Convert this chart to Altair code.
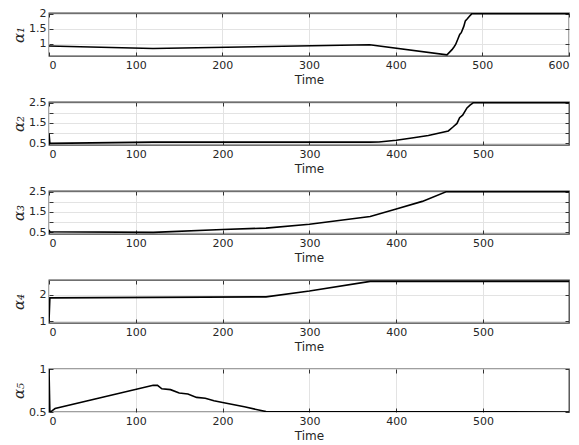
import altair as alt
import pandas as pd

# ---- data ----
t1 = [0, 120, 370, 459.2, 465, 467.3, 469.2, 471.9, 473.9, 475.7, 478.5, 480.4, 482.7, 485.4, 488, 600]
v1 = [0.93, 0.85, 0.97, 0.64, 0.81, 0.90, 0.98, 1.17, 1.31, 1.37, 1.57, 1.76, 1.83, 1.92, 2.0, 2.0]

t2 = [0, 1, 120, 370, 380, 400, 418, 437, 460, 465, 470, 473, 476.5, 481.5, 485, 489, 599]
v2 = [1.0, 0.5, 0.56, 0.56, 0.57, 0.65, 0.76, 0.89, 1.11, 1.29, 1.48, 1.76, 1.88, 2.24, 2.38, 2.5, 2.5]

t3 = [0, 1, 120, 200, 250, 300, 370, 400, 430, 458, 599]
v3 = [0.62, 0.53, 0.5, 0.64, 0.71, 0.9, 1.28, 1.65, 2.02, 2.5, 2.5]

t4 = [0, 1, 250, 300, 370, 599]
v4 = [1.0, 1.88, 1.92, 2.14, 2.5, 2.5]

t5 = [0, 1, 3, 7, 120, 125, 130, 140, 150, 160, 170, 180, 190, 200, 225, 250, 599]
v5 = [1.0, 0.5, 0.51, 0.54, 0.81, 0.81, 0.77, 0.76, 0.72, 0.71, 0.67, 0.66, 0.63, 0.61, 0.56, 0.505, 0.5]

titles = ["α₁", "α₂", "α₃", "α₄", "α₅"]
ydomains = [[0.6, 2.02], [0.42, 2.53], [0.42, 2.53], [0.94, 2.55], [0.5, 1.0]]
yticks = [[1, 1.5, 2], [0.5, 1, 1.5, 2, 2.5], [0.5, 1, 1.5, 2, 2.5], [1, 2], [0.5, 1]]
xdomains = [[0, 600], [0, 599], [0, 599], [0, 599], [0, 599]]
xticks_all = [[0, 100, 200, 300, 400, 500, 600]] + [[0, 100, 200, 300, 400, 500]] * 4

series = [(t1, v1), (t2, v2), (t3, v3), (t4, v4), (t5, v5)]

W, H = 520, 43
TICK = "#333333"


def panel(i):
    t, v = series[i]
    df = pd.DataFrame({"t": t, "v": v})
    xs = alt.Scale(domain=xdomains[i], nice=False, zero=False)
    ys = alt.Scale(domain=ydomains[i], nice=False, zero=False)
    xt, yt = xticks_all[i], yticks[i]

    main = alt.Chart(df).mark_line(color="black", strokeWidth=1.6, clip=True).encode(
        x=alt.X("t:Q", scale=xs, axis=alt.Axis(
            orient="bottom", values=xt, title="Time", grid=True, ticks=False,
            domain=False, labelPadding=3, titlePadding=4, format="d")),
        y=alt.Y("v:Q", scale=ys, axis=alt.Axis(
            orient="left", values=yt, title=titles[i], grid=True, ticks=False,
            domain=False, labelPadding=3, titlePadding=4, format="~r",
            minExtent=19, maxExtent=19, titleFont="DejaVu Serif",
            titleFontStyle="italic", titleFontSize=15)),
    )
    tk1 = alt.Chart(df).mark_line(opacity=0).encode(
        x=alt.X("t:Q", scale=xs, axis=alt.Axis(
            orient="bottom", values=xt, title=None, labels=False, grid=False,
            domain=False, ticks=True, tickSize=4, offset=-4, tickColor=TICK)),
        y=alt.Y("v:Q", scale=ys, axis=alt.Axis(
            orient="left", values=yt, title=None, labels=False, grid=False,
            domain=False, ticks=True, tickSize=4, offset=-4, tickColor=TICK)),
    )
    tk2 = alt.Chart(df).mark_line(opacity=0).encode(
        x=alt.X("t:Q", scale=xs, axis=alt.Axis(
            orient="top", values=xt, title=None, labels=False, grid=False,
            domain=False, ticks=True, tickSize=4, offset=-4, tickColor=TICK)),
        y=alt.Y("v:Q", scale=ys, axis=alt.Axis(
            orient="right", values=yt, title=None, labels=False, grid=False,
            domain=False, ticks=True, tickSize=4, offset=-4, tickColor=TICK)),
    )
    return alt.layer(main, tk1, tk2).resolve_axis(x="independent", y="independent").properties(
        width=W, height=H)


chart = alt.vconcat(*[panel(i) for i in range(5)], spacing=46, bounds="flush").properties(
    padding={"left": 2, "top": -2, "right": 0, "bottom": 0}
).configure_view(
    stroke="#404040", strokeWidth=1.3
).configure_axis(
    labelFont="DejaVu Sans", labelFontSize=11, labelColor="#262626",
    titleFont="DejaVu Sans", titleFontSize=12, titleFontWeight="normal",
    titleColor="#262626", gridColor="#e3e3e3", gridWidth=1,
)

chart.save("out.html", embed_options={"renderer": "svg", "actions": False})
